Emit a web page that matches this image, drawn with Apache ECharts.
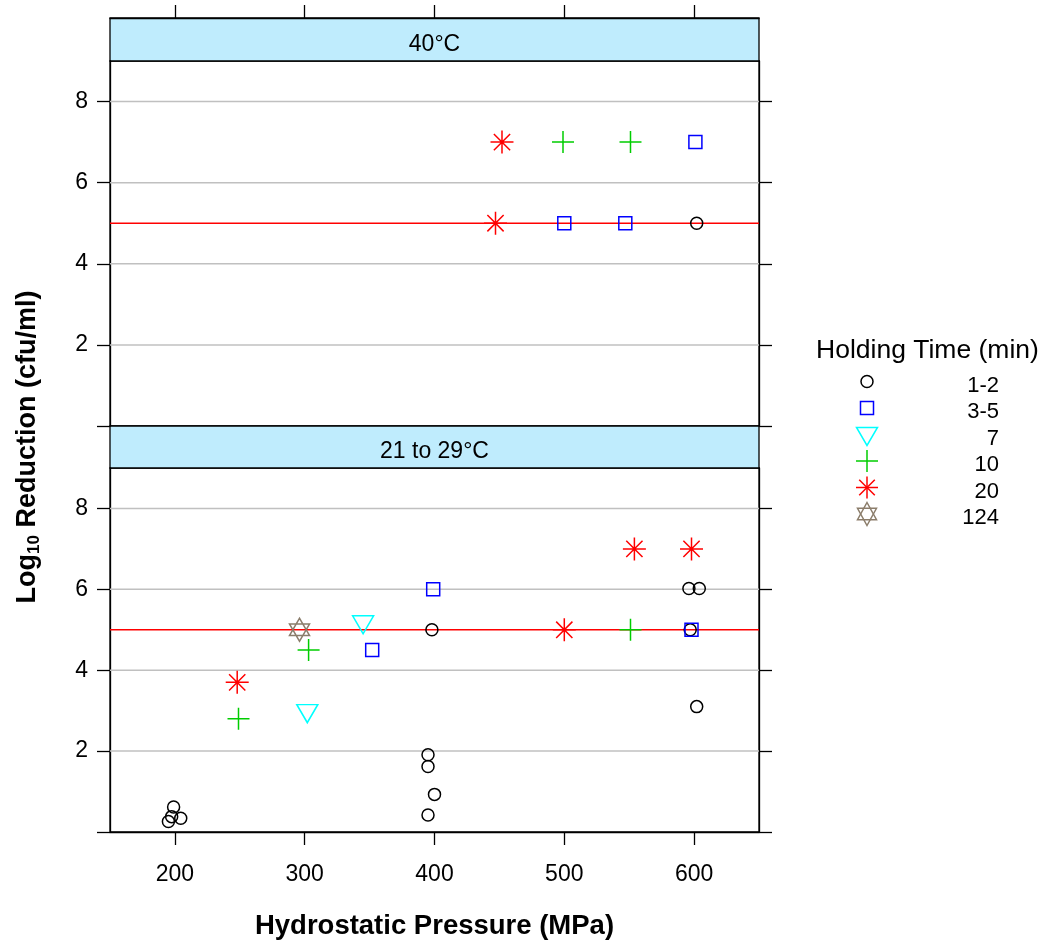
<!DOCTYPE html>
<html><head><meta charset="utf-8">
<script src="https://cdn.jsdelivr.net/npm/echarts@6/dist/echarts.min.js"></script>
<style>html,body{margin:0;padding:0;background:#fff}#c{width:1047px;height:943px}</style>
</head><body><div id="c"></div>
<script>
// ---------- data ----------
const groups = ['1-2', '3-5', '7', '10', '20', '124'];
const groupColors = ['#000000', '#0000ff', '#00ffff', '#00cd00', '#ff0000', '#8b7d6b'];
const panelTitles = ['40\u00b0C', '21 to 29\u00b0C'];
const xRange = [150, 650];
const xTicks = [200, 300, 400, 500, 600];
const yTicks = [0, 2, 4, 6, 8];
const yLabels = [2, 4, 6, 8];
const gridLines = [2, 4, 6, 8];
const refLine = 5;

// 40°C panel  [pressure MPa, log reduction]
const hot_1_2 = [[602, 5]];
const hot_3_5 = [[601, 7], [500, 5], [547, 5]];
const hot_7 = [];
const hot_10 = [[499, 7], [551, 7]];
const hot_20 = [[452, 7], [447, 5]];
const hot_124 = [];

// 21 to 29°C panel
const room_1_2 = [[199, 0.62], [204.5, 0.34], [195, 0.26], [197.5, 0.38],
                  [398, 5], [395, 1.91], [395, 1.62], [400, 0.93], [395, 0.42],
                  [596, 6.02], [604, 6.02], [597, 5], [602, 3.1]];
const room_3_5 = [[399, 6], [352, 4.5], [598, 5]];
const room_7 = [[345, 5.2], [302, 3.0]];
const room_10 = [[249, 2.8], [303, 4.5], [551, 5]];
const room_20 = [[248, 3.7], [500, 5], [554, 7], [598, 7]];
const room_124 = [[296, 5]];

const panelData = [
  [hot_1_2, hot_3_5, hot_7, hot_10, hot_20, hot_124],
  [room_1_2, room_3_5, room_7, room_10, room_20, room_124]
];

// ---------- styling / layout ----------
const FONT = 'Liberation Sans, Arial, sans-serif';
const L = 110, W = 649;
const stripTop = [18, 426], stripH = [43, 42];
const gridTop = [61, 468], gridH = [365, 364];
const symbols = [
  {symbol: 'circle', size: 12},
  {symbol: 'rect', size: 13},
  {symbol: 'path://M0,0L2,0L1,1.732Z', size: [21, 18], offset: [0, 3]},
  {symbol: 'path://M0,1L2,1M1,0L1,2', size: 22},
  {symbol: 'path://M0,1L2,1M1,0L1,2M0.293,0.293L1.707,1.707M0.293,1.707L1.707,0.293', size: 23},
  {symbol: 'path://M1,0L1.866,1.5L0.134,1.5ZM1,2L1.866,0.5L0.134,0.5Z', size: [20, 23]}
];

const chart = echarts.init(document.getElementById('c'), null, {renderer: 'canvas'});

const grids = [0, 1].map(p => ({
  left: L, top: gridTop[p], width: W, height: gridH[p],
  show: true, borderColor: '#000', borderWidth: 1.3, backgroundColor: 'transparent',
  containLabel: false, outerBoundsMode: 'none'
}));

const tickStyle = {color: '#000', width: 1.3};
const xAxes = [
  {gridIndex: 0, type: 'value', min: xRange[0], max: xRange[1], position: 'top', offset: stripH[0],
   axisLine: {show: true, onZero: false, lineStyle: tickStyle},
   axisTick: {show: true, length: 13, inside: false, customValues: xTicks, lineStyle: tickStyle},
   axisLabel: {show: false}, splitLine: {show: false}},
  {gridIndex: 1, type: 'value', min: xRange[0], max: xRange[1], position: 'bottom',
   axisLine: {show: true, onZero: false, lineStyle: tickStyle},
   axisTick: {show: true, length: 13, inside: false, customValues: xTicks, lineStyle: tickStyle},
   axisLabel: {show: true, customValues: xTicks, fontSize: 23, color: '#000', fontFamily: FONT, margin: 31},
   splitLine: {show: false},
   name: 'Hydrostatic Pressure (MPa)', nameLocation: 'middle', nameGap: 80, nameMoveOverlap: false,
   nameTextStyle: {fontSize: 27.5, fontWeight: 'bold', color: '#000', fontFamily: FONT}}
];
const yAxes = [];
[0, 1].forEach(p => {
  yAxes.push({gridIndex: p, type: 'value', min: 0, max: 9, position: 'left',
    axisLine: {show: true, onZero: false, lineStyle: tickStyle},
    axisTick: {show: true, length: 13, inside: false, customValues: yTicks, lineStyle: tickStyle},
    axisLabel: {show: true, customValues: yLabels, fontSize: 23, color: '#000', fontFamily: FONT, margin: 22},
    splitLine: {show: false}});
  yAxes.push({gridIndex: p, type: 'value', min: 0, max: 9, position: 'right',
    axisLine: {show: true, onZero: false, lineStyle: tickStyle},
    axisTick: {show: true, length: 13, inside: false, customValues: yTicks, lineStyle: tickStyle},
    axisLabel: {show: false}, splitLine: {show: false}});
});

const series = [];
[0, 1].forEach(p => {
  // horizontal reference lines, drawn beneath the points
  gridLines.concat([refLine]).forEach(v => {
    const isRef = v === refLine;
    series.push({
      type: 'line', xAxisIndex: p, yAxisIndex: p * 2,
      data: [[xRange[0], v], [xRange[1], v]], symbol: 'none', silent: true,
      lineStyle: {color: isRef ? '#ff0000' : '#c0c0c0', width: 1.5, type: 'solid'},
      z: isRef ? 2 : 1, emphasis: {disabled: true}, clip: true
    });
  });
  groups.forEach((g, i) => {
    const s = symbols[i];
    series.push({
      type: 'scatter', name: g, xAxisIndex: p, yAxisIndex: p * 2,
      data: panelData[p][i], symbol: s.symbol, symbolSize: s.size, symbolOffset: s.offset || [0, 0],
      itemStyle: {color: 'rgba(0,0,0,0)', borderColor: groupColors[i], borderWidth: 1.5, opacity: 1},
      emphasis: {disabled: true}, silent: true, z: 6
    });
  });
});

// legend glyphs (same shapes as the plot symbols)
function glyph(i, cx, cy) {
  const st = {fill: 'none', stroke: groupColors[i], lineWidth: 1.5};
  const ln = (x1, y1, x2, y2) => ({type: 'line', shape: {x1, y1, x2, y2}, style: st, silent: true});
  switch (i) {
    case 0: return [{type: 'circle', shape: {cx, cy, r: 6}, style: st, silent: true}];
    case 1: return [{type: 'rect', shape: {x: cx - 6.5, y: cy - 6.5, width: 13, height: 13}, style: st, silent: true}];
    case 2: return [{type: 'polygon', shape: {points: [[cx - 10.5, cy - 7], [cx + 10.5, cy - 7], [cx, cy + 11]]}, style: st, silent: true}];
    case 3: return [ln(cx - 11, cy, cx + 11, cy), ln(cx, cy - 11, cx, cy + 11)];
    case 4: { const d = 11 * 0.7071;
      return [ln(cx - 11, cy, cx + 11, cy), ln(cx, cy - 11, cx, cy + 11),
              ln(cx - d, cy - d, cx + d, cy + d), ln(cx - d, cy + d, cx + d, cy - d)]; }
    case 5: return [
      {type: 'polygon', shape: {points: [[cx, cy - 11.5], [cx + 9.5, cy + 5.75], [cx - 9.5, cy + 5.75]]}, style: st, silent: true},
      {type: 'polygon', shape: {points: [[cx, cy + 11.5], [cx + 9.5, cy - 5.75], [cx - 9.5, cy - 5.75]]}, style: st, silent: true}];
  }
  return [];
}

const graphics = [];
[0, 1].forEach(p => {
  graphics.push({type: 'rect', shape: {x: L, y: stripTop[p], width: W, height: stripH[p]},
    style: {fill: '#bfecfd', stroke: '#000', lineWidth: 1.3}, z: 0, silent: true});
  graphics.push({type: 'text', x: L + W / 2, y: stripTop[p] + stripH[p] / 2 + 5,
    style: {text: panelTitles[p], fontSize: 23, fontFamily: FONT, fill: '#000', align: 'center', verticalAlign: 'middle'},
    z: 5, silent: true});
});
graphics.push({type: 'text', x: 28, y: 447, rotation: Math.PI / 2,
  style: {text: '{a|Log}{s|10}{a| Reduction (cfu/ml)}', align: 'center', verticalAlign: 'middle',
    rich: {a: {fontSize: 27, fontWeight: 'bold', fontFamily: FONT, fill: '#000'},
           s: {fontSize: 17, fontWeight: 'bold', fontFamily: FONT, fill: '#000', padding: [13, 0, 0, 0]}}},
  silent: true});
graphics.push({type: 'text', x: 816, y: 351,
  style: {text: 'Holding Time (min)', fontSize: 26.5, fontFamily: FONT, fill: '#000', align: 'left', verticalAlign: 'middle'},
  silent: true});
groups.forEach((g, i) => {
  const cy = 381.5 + i * 26.5;
  glyph(i, 867, cy).forEach(e => graphics.push(e));
  graphics.push({type: 'text', x: 999, y: cy + 4,
    style: {text: g, fontSize: 22, fontFamily: FONT, fill: '#000', align: 'right', verticalAlign: 'middle'}, silent: true});
});

chart.setOption({
  animation: false,
  backgroundColor: '#fff',
  grid: grids, xAxis: xAxes, yAxis: yAxes, series: series,
  graphic: {elements: graphics}
});
</script></body></html>
